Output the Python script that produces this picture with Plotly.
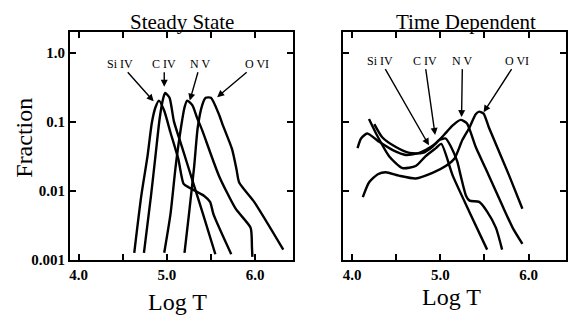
import plotly.graph_objects as go

# ---- Steady State panel: log T vs ion fraction ----
ss_si4_logt = [4.63, 4.71, 4.78, 4.83, 4.87, 4.91, 4.97, 5.04, 5.13, 5.19, 5.25, 5.32, 5.42, 5.49, 5.53, 5.73]
ss_si4_frac = [0.00126, 0.0085, 0.0316, 0.098, 0.162, 0.204, 0.145, 0.0708, 0.0288, 0.0126, 0.0112, 0.0100, 0.0085, 0.0069, 0.0045, 0.0012]

ss_c4_logt = [4.74, 4.82, 4.87, 4.92, 4.96, 4.98, 5.03, 5.08, 5.17, 5.32, 5.41, 5.55]
ss_c4_frac = [0.00126, 0.0085, 0.0316, 0.117, 0.224, 0.263, 0.224, 0.102, 0.0437, 0.0107, 0.0046, 0.0012]

ss_n5_logt = [4.97, 5.04, 5.10, 5.16, 5.20, 5.23, 5.29, 5.34, 5.40, 5.59, 5.78, 5.95, 5.965, 5.97]
ss_n5_frac = [0.00126, 0.0045, 0.0229, 0.083, 0.162, 0.204, 0.174, 0.117, 0.076, 0.0166, 0.0055, 0.0029, 0.0015, 0.0011]

ss_o6_logt = [5.20, 5.25, 5.31, 5.35, 5.40, 5.44, 5.50, 5.59, 5.63, 5.74, 5.79, 5.82, 5.99, 6.32]
ss_o6_frac = [0.00126, 0.0045, 0.0229, 0.083, 0.174, 0.224, 0.224, 0.129, 0.093, 0.040, 0.0204, 0.0132, 0.0069, 0.0014]

# ---- Time Dependent panel ----
td_si4_logt = [4.19, 4.27, 4.42, 4.57, 4.72, 4.83, 4.95, 5.01, 5.14, 5.33, 5.53]
td_si4_frac = [0.110, 0.068, 0.0316, 0.0214, 0.0229, 0.0316, 0.0417, 0.0479, 0.0166, 0.0049, 0.0014]

td_c4_logt = [4.25, 4.34, 4.49, 4.65, 4.80, 4.91, 4.99, 5.06, 5.12, 5.19, 5.23, 5.29, 5.33, 5.44, 5.53, 5.63, 5.70]
td_c4_frac = [0.093, 0.060, 0.0437, 0.0355, 0.0355, 0.0437, 0.055, 0.0575, 0.0437, 0.0269, 0.0166, 0.0085, 0.0072, 0.0069, 0.0050, 0.0029, 0.0014]

td_n5_logt = [4.06, 4.10, 4.17, 4.31, 4.46, 4.61, 4.76, 4.87, 4.95, 5.04, 5.14, 5.23, 5.30, 5.40, 5.55, 5.70, 5.82, 5.93]
td_n5_frac = [0.0417, 0.0575, 0.068, 0.051, 0.039, 0.0331, 0.0355, 0.0417, 0.049, 0.0646, 0.089, 0.107, 0.0955, 0.0437, 0.0166, 0.0062, 0.0029, 0.0017]

td_o6_logt = [4.12, 4.19, 4.29, 4.38, 4.53, 4.72, 4.91, 5.06, 5.16, 5.25, 5.33, 5.40, 5.44, 5.49, 5.55, 5.78, 5.93]
td_o6_frac = [0.0081, 0.0132, 0.0174, 0.0186, 0.0166, 0.0151, 0.0182, 0.0229, 0.0295, 0.055, 0.083, 0.129, 0.141, 0.132, 0.083, 0.0166, 0.0055]

# ion labels: text, label position (logT, log frac), arrow head (logT, log frac)
ions = ["Si IV", "C IV", "N V", "O VI"]
ss_label_x = [4.47, 4.97, 5.38, 6.02]
ss_label_y = -0.156
ss_head_x = [4.85, 4.97, 5.26, 5.57]
ss_head_y = [-0.70, -0.49, -0.69, -0.64]

td_label_x = [4.32, 4.82, 5.25, 5.87]
td_label_y = -0.11
td_head_x = [4.87, 4.94, 5.24, 5.49]
td_head_y = [-1.34, -1.19, -0.93, -0.86]

x_ticks = [4.0, 4.5, 5.0, 5.5, 6.0]
x_ticktext = ["4.0", "", "5.0", "", "6.0"]
y_ticks = [0.001, 0.01, 0.1, 1.0]
y_ticktext = ["0.001", "0.01", "0.1", "1.0"]

SERIF = "Liberation Serif"
W, H = 582, 327
OFF = 8  # default body margin of the page, figure sits at (8, 8)


def px(x):
    return (x - OFF) / W


def py(y):
    return 1 - (y - OFF) / H


fig = go.Figure()

panels = [
    ("x", "y", [(ss_si4_logt, ss_si4_frac), (ss_c4_logt, ss_c4_frac),
                (ss_n5_logt, ss_n5_frac), (ss_o6_logt, ss_o6_frac)]),
    ("x2", "y2", [(td_si4_logt, td_si4_frac), (td_c4_logt, td_c4_frac),
                  (td_n5_logt, td_n5_frac), (td_o6_logt, td_o6_frac)]),
]
for xa, ya, curves in panels:
    for logt, frac in curves:
        fig.add_trace(go.Scatter(
            x=logt, y=frac, mode="lines", xaxis=xa, yaxis=ya,
            line=dict(color="black", width=2.4, shape="spline", smoothing=0.6),
            showlegend=False, hoverinfo="skip"))

axis_common = dict(showline=True, linecolor="black", linewidth=2, mirror="ticks",
                   ticks="inside", ticklen=6, tickwidth=1.5, tickcolor="black",
                   showgrid=False, zeroline=False,
                   tickfont=dict(family=SERIF, size=15, color="black", weight="bold"))

ydom = [py(266), py(33)]
fig.update_layout(
    width=W, height=H,
    margin=dict(l=0, r=0, t=0, b=0),
    paper_bgcolor="white", plot_bgcolor="white",
    xaxis=dict(domain=[px(69), px(292)], range=[3.9, 6.425], anchor="y",
               tickvals=x_ticks, ticktext=x_ticktext, **axis_common),
    yaxis=dict(domain=ydom, type="log", range=[-3, 0.3], anchor="x",
               tickvals=y_ticks, ticktext=y_ticktext, **axis_common),
    xaxis2=dict(domain=[px(343), px(566)], range=[3.9, 6.425], anchor="y2",
                tickvals=x_ticks, ticktext=x_ticktext, **axis_common),
    yaxis2=dict(domain=ydom, type="log", range=[-3, 0.3], anchor="x2",
                tickvals=y_ticks, showticklabels=False, **axis_common),
)

annotations = []
for xr, yr, lx, ly, hx, hy in [("x", "y", ss_label_x, ss_label_y, ss_head_x, ss_head_y),
                               ("x2", "y2", td_label_x, td_label_y, td_head_x, td_head_y)]:
    for i, name in enumerate(ions):
        annotations.append(dict(
            x=hx[i], y=hy[i], xref=xr, yref=yr,
            ax=lx[i], ay=ly, axref=xr, ayref=yr,
            text=name, showarrow=True, arrowhead=2, arrowsize=1, arrowwidth=1.4,
            arrowcolor="black", font=dict(family=SERIF, size=12, color="black")))

# panel titles and axis titles
title_font = dict(family=SERIF, size=21, color="black")
label_font = dict(family=SERIF, size=24, color="black")
annotations += [
    dict(text="Steady State", x=px(181), y=py(22), font=title_font),
    dict(text="Time Dependent", x=px(466), y=py(22), font=title_font),
    dict(text="Log T", x=px(177), y=py(309), font=label_font),
    dict(text="Log T", x=px(451), y=py(304), font=label_font),
    dict(text="Fraction", x=px(23), y=py(141), textangle=-90, font=label_font),
]
for a in annotations[-5:]:
    a.update(xref="paper", yref="paper", xanchor="center", yanchor="middle", showarrow=False)
fig.update_layout(annotations=annotations)

fig.write_html("out.html")
